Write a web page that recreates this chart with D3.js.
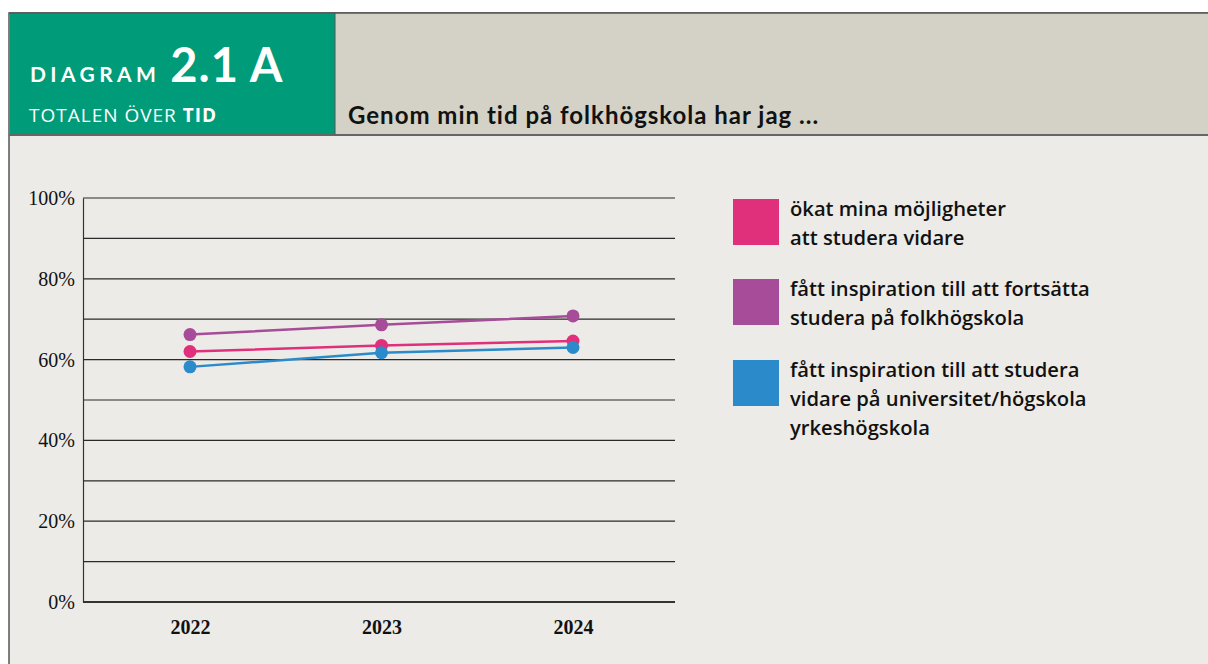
<!DOCTYPE html>
<html>
<head>
<meta charset="utf-8">
<script src="https://cdn.jsdelivr.net/npm/d3@7"></script>
<style>
  html, body { margin: 0; padding: 0; background: #fff; }
  svg { display: block; }
</style>
</head>
<body>
<div id="chart"></div>
<script>
// data
const years = ['2022', '2023', '2024'];
const okatMojligheter = [62.0, 63.5, 64.6];
const inspirationFolkhogskola = [66.2, 68.6, 70.8];
const inspirationUniversitet = [58.2, 61.7, 63.0];
const yTicks = [0, 20, 40, 60, 80, 100];

const seriesNames = [
    ['ökat mina möjligheter', 'att studera vidare'],
    ['fått inspiration till att fortsätta', 'studera på folkhögskola'],
    ['fått inspiration till att studera', 'vidare på universitet/högskola', 'yrkeshögskola']
];
const seriesColors = ['#e0307b', '#a64c98', '#2a8aca'];

const series = [
    { name: seriesNames[0], color: seriesColors[0], values: okatMojligheter },
    { name: seriesNames[1], color: seriesColors[1], values: inspirationFolkhogskola },
    { name: seriesNames[2], color: seriesColors[2], values: inspirationUniversitet }
];

const width = 1208, height = 664;
const svg = d3.select('#chart').append('svg')
    .attr('width', width)
    .attr('height', height);

// frame + header
svg.append('rect').attr('x', 9).attr('y', 13).attr('width', width).attr('height', height)
    .attr('fill', '#ecebe7').attr('stroke', '#555').attr('stroke-width', 1.5);
svg.append('rect').attr('x', 335).attr('y', 13).attr('width', width - 335).attr('height', 122)
    .attr('fill', '#d4d1c6');
svg.append('rect').attr('x', 10).attr('y', 14).attr('width', 325).attr('height', 121)
    .attr('fill', '#009b79');
svg.append('line').attr('x1', 9).attr('x2', width).attr('y1', 13).attr('y2', 13)
    .attr('stroke', '#555').attr('stroke-width', 1.5);
svg.append('line').attr('x1', 9).attr('x2', width).attr('y1', 135).attr('y2', 135)
    .attr('stroke', '#666').attr('stroke-width', 2);
svg.append('line').attr('x1', 335).attr('x2', 335).attr('y1', 13).attr('y2', 135)
    .attr('stroke', '#555').attr('stroke-width', 1);

const head = svg.append('text').attr('x', 30).attr('y', 82).attr('fill', '#fff')
    .attr('font-family', 'Lato, sans-serif').attr('font-weight', 'bold');
head.append('tspan').attr('font-size', 21).attr('letter-spacing', 4.4).text('DIAGRAM');
head.append('tspan').attr('dx', 10).attr('font-size', 47).attr('letter-spacing', 1).text('2.1 A');

const sub = svg.append('text').attr('x', 29).attr('y', 122).attr('fill', '#fff')
    .attr('font-family', '"Open Sans", sans-serif').attr('font-size', 19).attr('letter-spacing', 1);
sub.append('tspan').text('TOTALEN ÖVER ');
sub.append('tspan').attr('font-weight', 'bold').text('TID');

svg.append('text').attr('x', 348).attr('y', 124)
    .attr('font-family', 'Lato, sans-serif').attr('font-weight', 'bold').attr('font-size', 24)
    .attr('letter-spacing', 1)
    .attr('fill', '#111')
    .text('Genom min tid på folkhögskola har jag ...');

// plot area
const plot = { left: 83, right: 675, top: 198, bottom: 602 };

const x = d3.scalePoint()
    .domain(years)
    .range([190, 573]);

const y = d3.scaleLinear()
    .domain([0, 100])
    .range([plot.bottom, plot.top]);

// gridlines every 10%
svg.append('g')
    .selectAll('line')
    .data(d3.range(10, 101, 10))
    .join('line')
    .attr('x1', plot.left)
    .attr('x2', plot.right)
    .attr('y1', d => y(d))
    .attr('y2', d => y(d))
    .attr('stroke', '#2a2a2a')
    .attr('stroke-width', 1.2);

// y axis
const yAxis = svg.append('g')
    .attr('transform', `translate(${plot.left},0)`)
    .call(d3.axisLeft(y).tickValues(yTicks).tickSize(0).tickPadding(8).tickFormat(d => d + '%'));
yAxis.select('.domain').attr('stroke', '#333').attr('stroke-width', 1.2);
yAxis.selectAll('text')
    .attr('font-family', '"Liberation Serif", serif')
    .attr('font-size', 20)
    .attr('fill', '#111');

// x axis (baseline)
const xAxis = svg.append('g')
    .attr('transform', `translate(0,${plot.bottom})`)
    .call(d3.axisBottom(x).tickSize(0).tickPadding(18));
xAxis.select('.domain').attr('stroke', '#333').attr('stroke-width', 2)
    .attr('d', `M${plot.left},0H${plot.right}`);
xAxis.selectAll('text')
    .attr('font-family', '"Liberation Serif", serif')
    .attr('font-weight', 'bold')
    .attr('font-size', 20)
    .attr('fill', '#111');

// lines and dots
const line = d3.line()
    .x((d, i) => x(years[i]))
    .y(d => y(d));

const drawOrder = [series[1], series[0], series[2]];
const g = svg.append('g');
drawOrder.forEach(s => {
    g.append('path')
        .attr('d', line(s.values))
        .attr('fill', 'none')
        .attr('stroke', s.color)
        .attr('stroke-width', 2.5);
    g.selectAll(null)
        .data(s.values)
        .join('circle')
        .attr('cx', (d, i) => x(years[i]))
        .attr('cy', d => y(d))
        .attr('r', 6.5)
        .attr('fill', s.color);
});

// legend
const legendTops = [199, 279, 360];
const legend = svg.append('g');
series.forEach((s, i) => {
    const top = legendTops[i];
    legend.append('rect')
        .attr('x', 733).attr('y', top)
        .attr('width', 46).attr('height', 46)
        .attr('fill', s.color);
    const t = legend.append('text')
        .attr('x', 790)
        .attr('y', top + 17)
        .attr('font-family', '"Open Sans", sans-serif')
        .attr('font-weight', 600)
        .attr('font-size', 20.2)
        .attr('fill', '#111');
    s.name.forEach((ln, j) => {
        t.append('tspan').attr('x', 790).attr('dy', j === 0 ? 0 : 29).text(ln);
    });
});
</script>
</body>
</html>
